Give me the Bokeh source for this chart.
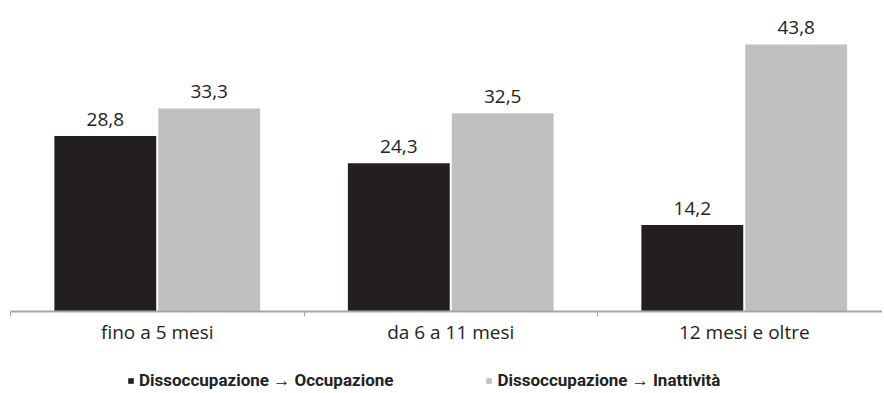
from bokeh.plotting import figure
from bokeh.layouts import column
from bokeh.models import ColumnDataSource, Range1d, FixedTicker, Legend, LegendItem
from bokeh.core.properties import value
from bokeh.embed import file_html
from bokeh.resources import INLINE

categories = ["fino a 5 mesi", "da 6 a 11 mesi", "12 mesi e oltre"]
occupazione = [28.8, 24.3, 14.2]
inattivita = [33.3, 32.5, 43.8]
series_names = ["Dissoccupazione \u2192 Occupazione", "Dissoccupazione \u2192 Inattivit\u00e0"]

FONT = "Open Sans"
LFONT = "Roboto"
DARK = "#231f20"
LIGHT = "#c0c0c2"

x = [i + 0.5 for i in range(len(categories))]
fmt = lambda v: f"{v:.1f}".replace(".", ",")
src1 = ColumnDataSource(dict(x=[v - 0.177 for v in x], y=occupazione, lab=[fmt(v) for v in occupazione]))
src2 = ColumnDataSource(dict(x=[v + 0.177 for v in x], y=inattivita, lab=[fmt(v) for v in inattivita]))

p = figure(frame_width=872, frame_height=303, output_backend="svg", toolbar_location=None,
           x_range=Range1d(0, 2.971), y_range=Range1d(0, 49.7),
           min_border_left=10, min_border_right=0, min_border_top=8, min_border_bottom=50)
p.outline_line_color = None
p.xgrid.visible = False
p.ygrid.visible = False
p.yaxis.visible = False

r1 = p.vbar(x="x", top="y", width=0.347, source=src1, fill_color=DARK, line_color=None)
r2 = p.vbar(x="x", top="y", width=0.347, source=src2, fill_color=LIGHT, line_color=None)

for s in (src1, src2):
    p.text(x="x", y="y", text="lab", source=s, y_offset=-10, text_align="center",
           text_baseline="bottom", text_font=value(FONT), text_font_size="19px", text_color="#222222")

ax = p.xaxis[0]
ax.ticker = FixedTicker(ticks=x, minor_ticks=[0, 1, 2, 3])
ax.major_label_overrides = {v: c for v, c in zip(x, categories)}
ax.major_tick_line_color = None
ax.major_tick_out = 0
ax.major_tick_in = 0
ax.minor_tick_in = 0
ax.minor_tick_out = 5
ax.minor_tick_line_color = "#a6a6a6"
ax.axis_line_color = "#a6a6a6"
ax.axis_line_width = 2
ax.major_label_text_font = FONT
ax.major_label_text_font_size = "19px"
ax.major_label_text_color = "#222222"
ax.major_label_standoff = 2

# legend strip below the chart (its proxy bars lie outside the visible range)
lg = figure(frame_width=872, frame_height=32, output_backend="svg", toolbar_location=None,
            x_range=Range1d(0, 1), y_range=Range1d(0, 1),
            min_border_left=10, min_border_right=0, min_border_top=0, min_border_bottom=0)
lg.outline_line_color = None
lg.axis.visible = False
lg.grid.visible = False
d1 = lg.vbar(x=[5], top=[1], width=0.1, fill_color=DARK, line_color=None)
d2 = lg.vbar(x=[5], top=[1], width=0.1, fill_color=LIGHT, line_color=None)
legend = Legend(items=[LegendItem(label=series_names[0], renderers=[d1]),
                       LegendItem(label=series_names[1], renderers=[d2])],
                orientation="horizontal", location=(117, 2), spacing=92,
                glyph_width=7, glyph_height=7, label_standoff=5,
                label_text_font=LFONT, label_text_font_size="17px", label_text_font_style="bold",
                label_text_color="#222222", border_line_color=None, background_fill_alpha=0,
                padding=0, margin=0)
lg.add_layout(legend)

layout = column(p, lg, spacing=0)
open("out.html", "w").write(file_html(layout, INLINE))
